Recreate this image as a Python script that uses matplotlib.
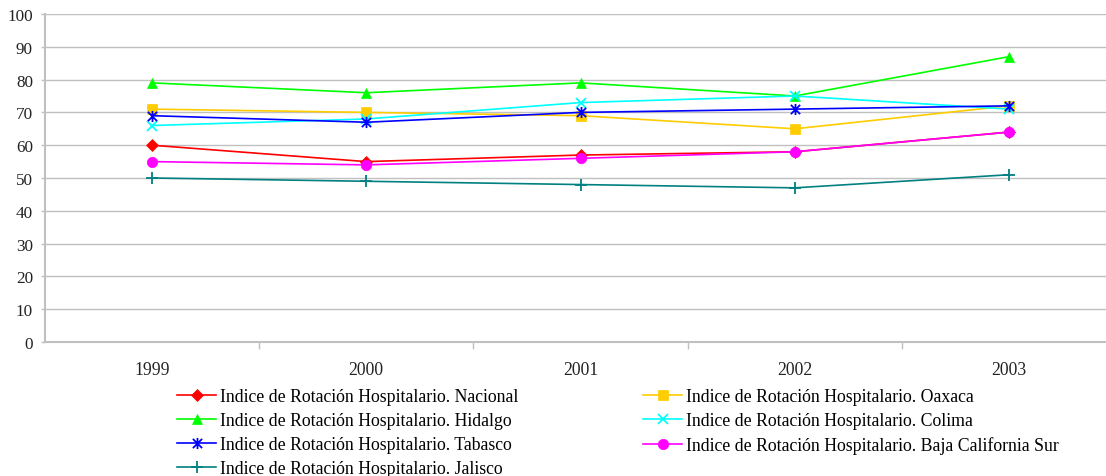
import matplotlib
matplotlib.use("Agg")
import matplotlib.pyplot as plt
from matplotlib.ticker import FixedLocator
from matplotlib.path import Path

plt.rcParams['font.family'] = ['Liberation Serif', 'DejaVu Serif']

years = ["1999", "2000", "2001", "2002", "2003"]

nacional = [60, 55, 57, 58, 64]
oaxaca = [71, 70, 69, 65, 72]
hidalgo = [79, 76, 79, 75, 87]
colima = [66, 68, 73, 75, 71]
tabasco = [69, 67, 70, 71, 72]
baja_california_sur = [55, 54, 56, 58, 64]
jalisco = [50, 49, 48, 47, 51]

# excel style asterisk: an x with a vertical bar through it
asterisk = Path([(-1, -1), (1, 1), (-1, 1), (1, -1), (0, -1.2), (0, 1.2)],
                [Path.MOVETO, Path.LINETO, Path.MOVETO, Path.LINETO, Path.MOVETO, Path.LINETO])

prefix = "Indice de Rotación Hospitalario. "
series = [
    ("Nacional", nacional, "#FF0000", "D", 6),
    ("Oaxaca", oaxaca, "#FFCC00", "s", 6.5),
    ("Hidalgo", hidalgo, "#00FF00", "^", 7),
    ("Colima", colima, "#00FFFF", "x", 7),
    ("Tabasco", tabasco, "#0000FF", asterisk, 8),
    ("Baja California Sur", baja_california_sur, "#FF00FF", "o", 7.5),
    ("Jalisco", jalisco, "#008080", "+", 8),
]

fig = plt.figure(figsize=(11.06, 4.77), dpi=100)
# axes runs a bit past the right edge, like the original
ax = fig.add_axes([44.7 / 1106, 134 / 477, 1071.6 / 1106, 328 / 477])

x = list(range(len(years)))
handles = []
for name, vals, color, marker, ms in series:
    thin = isinstance(marker, Path) or marker in ("x", "+")
    line, = ax.plot(x, vals, color=color, marker=marker, markersize=ms,
                    linewidth=1.2, markeredgewidth=1.3 if thin else 0.5,
                    markeredgecolor=color, label=prefix + name)
    handles.append(line)

ax.set_xlim(-0.5, len(years) - 0.5)
ax.set_ylim(0, 100)
ax.set_yticks(range(0, 101, 10))

ax.set_xticks(x)
ax.set_xticklabels(years)
ax.xaxis.set_minor_locator(FixedLocator([i + 0.5 for i in range(len(years) - 1)]))
ax.tick_params(axis="x", which="major", length=0, pad=14, labelsize=12.7, colors="#222222")
ax.tick_params(axis="x", which="minor", length=5, color="#c0c0c0", width=1)
ax.tick_params(axis="y", length=3, color="#c0c0c0", width=1, pad=5.5, labelsize=12.3, labelcolor="#222222")

ax.grid(axis="y", color="#c0c0c0", linewidth=1)
ax.set_axisbelow(True)
for side in ("top", "right"):
    ax.spines[side].set_visible(False)
for side in ("left", "bottom"):
    ax.spines[side].set_color("#c0c0c0")
    ax.spines[side].set_linewidth(1.5)

# legend in two blocks, filled row by row
left_col = [handles[0], handles[2], handles[4], handles[6]]
right_col = [handles[1], handles[3], handles[5]]
leg_kw = dict(frameon=False, fontsize=12.8, handlelength=2.2, handletextpad=0.2,
              labelspacing=0.39, borderpad=0, borderaxespad=0, loc="upper left")
leg1 = fig.legend(handles=left_col, bbox_to_anchor=(177 / 1106, 1 - 389 / 477), **leg_kw)
leg2 = fig.legend(handles=right_col, bbox_to_anchor=(643 / 1106, 1 - 389 / 477), **leg_kw)

fig.savefig("out.png", dpi=100)
